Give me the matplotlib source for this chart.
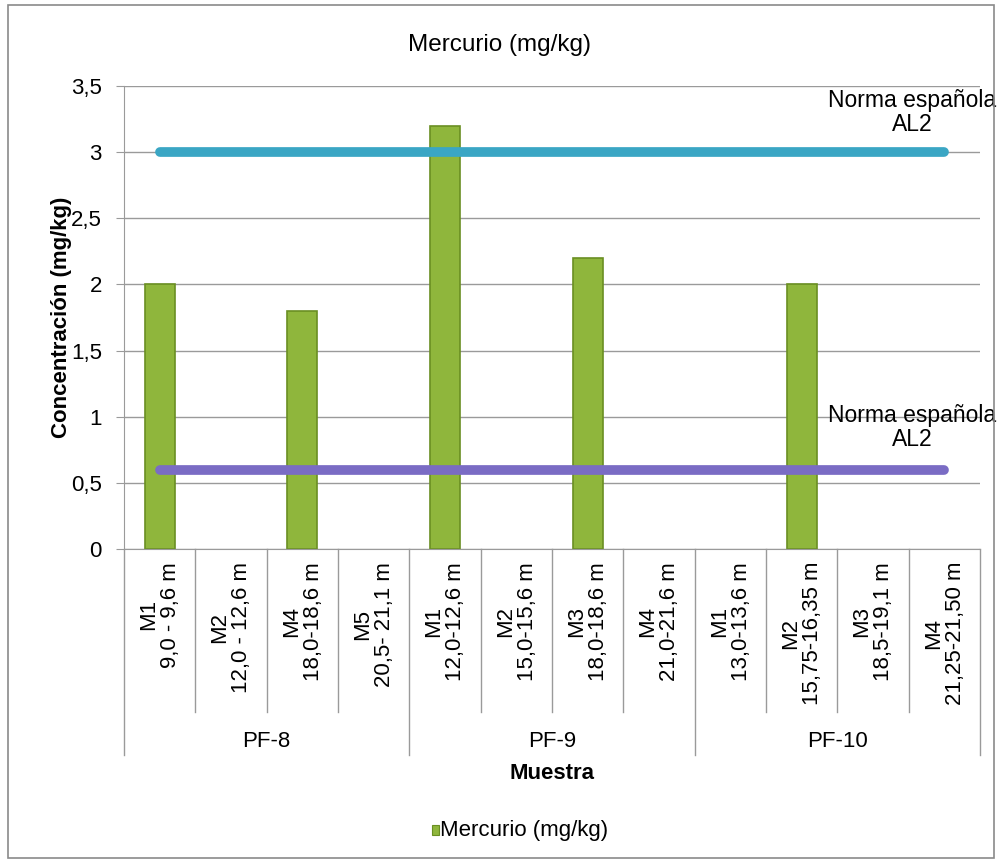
import matplotlib
matplotlib.use("Agg")
import matplotlib.pyplot as plt
from matplotlib.patches import Rectangle
from matplotlib.lines import Line2D
import numpy as np

plt.rcParams['font.family'] = ['Liberation Sans', 'DejaVu Sans']

groups = ["PF-8", "PF-9", "PF-10"]
group_sizes = [4, 4, 4]
categories = ["M1\n9,0 - 9,6 m", "M2\n12,0 - 12,6 m", "M4\n18,0-18,6 m", "M5\n20,5- 21,1 m",
              "M1\n12,0-12,6 m", "M2\n15,0-15,6 m", "M3\n18,0-18,6 m", "M4\n21,0-21,6 m",
              "M1\n13,0-13,6 m", "M2\n15,75-16,35 m", "M3\n18,5-19,1 m", "M4\n21,25-21,50 m"]
# None = no measured value shown in the chart
mercurio = [2.0, None, 1.8, None, 3.2, None, 2.2, None, None, 2.0, None, None]
norma_alta = [3.0] * 12
norma_baja = [0.6] * 12
yticks = [0, 0.5, 1, 1.5, 2, 2.5, 3, 3.5]
ytick_labels = ["0", "0,5", "1", "1,5", "2", "2,5", "3", "3,5"]

fig = plt.figure(figsize=(10, 8.61), dpi=100)
ax = fig.add_axes([0.124, 0.3624, 0.856, 0.5377])

x = np.arange(len(categories))
vals = np.array([np.nan if v is None else v for v in mercurio], dtype=float)
ax.bar(x, vals, width=0.42, color="#8fb63c", edgecolor="#6a8f22", linewidth=1.2, zorder=2)
ax.plot(x, norma_alta, color="#3aa6c4", linewidth=7, solid_capstyle="round", zorder=3)
ax.plot(x, norma_baja, color="#7a6cc4", linewidth=7, solid_capstyle="round", zorder=3)

ax.set_xlim(-0.5, len(categories) - 0.5)
ax.set_ylim(0, 3.5)
ax.set_yticks(yticks)
ax.set_yticklabels(ytick_labels, fontsize=16)
ax.yaxis.grid(True, color="#9a9a9a", linewidth=1)
ax.set_axisbelow(True)
ax.tick_params(axis='y', length=6, color="#9a9a9a", pad=10)
ax.set_xticks([])
for s in ["top", "right"]:
    ax.spines[s].set_visible(False)
for s in ["left", "bottom"]:
    ax.spines[s].set_color("#9a9a9a")
ax.set_ylabel("Concentración (mg/kg)", fontsize=16, fontweight="bold", labelpad=-1)

ax.text(10.55, 3.30, "Norma española\nAL2", ha="center", va="center", fontsize=16.5,
        multialignment="center", linespacing=1.05, clip_on=False)
ax.text(10.55, 0.915, "Norma española\nAL2", ha="center", va="center", fontsize=16.5,
        multialignment="center", linespacing=1.05, clip_on=False)

trans = ax.get_xaxis_transform()
for i, lab in enumerate(categories):
    ax.text(i, -0.028, lab, rotation=90, ha="center", va="top", fontsize=16,
            multialignment="center", linespacing=1.05, transform=trans)

bounds = np.cumsum([0] + group_sizes)
group_edges = set(bounds.tolist())
for b in range(len(categories) + 1):
    ybot = -0.445 if b in group_edges else -0.352
    ax.add_line(Line2D([b - 0.5, b - 0.5], [0, ybot], transform=trans, color="#9a9a9a",
                       linewidth=1, clip_on=False))
for gi, g in enumerate(groups):
    center = (bounds[gi] + bounds[gi + 1]) / 2 - 0.5
    ax.text(center, -0.415, g, ha="center", va="center", fontsize=16, transform=trans)

ax.text(0.5, -0.484, "Muestra", ha="center", va="center", fontsize=16, fontweight="bold",
        transform=ax.transAxes)

fig.text(0.5, 0.948, "Mercurio (mg/kg)", ha="center", va="center", fontsize=17.5)

fig.patches.append(Rectangle((0.432, 0.0305), 0.007, 0.011, transform=fig.transFigure,
                             facecolor="#8fb63c", edgecolor="#6a8f22", linewidth=0.8))
fig.text(0.440, 0.036, "Mercurio (mg/kg)", ha="left", va="center", fontsize=16)

fig.patches.append(Rectangle((0.008, 0.004), 0.986, 0.99, transform=fig.transFigure,
                             fill=False, edgecolor="#8a8a8a", linewidth=1.2))

fig.savefig("out.png", dpi=100)
